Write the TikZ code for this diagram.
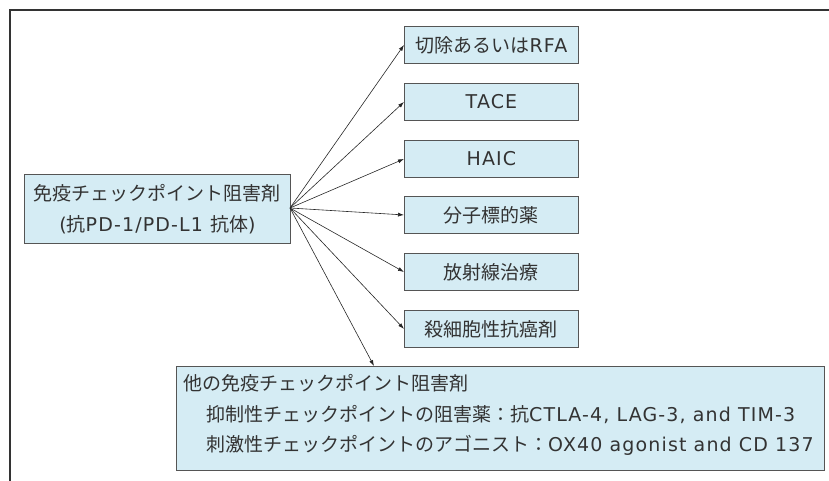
\documentclass[tikz,border=0pt]{standalone}
\usepackage{fontspec}
\setmainfont{Noto Sans CJK JP}
\newfontfamily\latf{DejaVu Sans}[LetterSpace=6]
\newcommand{\lt}[1]{{\latf #1}}
\usetikzlibrary{arrows.meta}
\definecolor{boxfill}{HTML}{D5ECF4}
\definecolor{boxline}{HTML}{555555}
\definecolor{txt}{HTML}{333333}
\tikzset{
  tbox/.style={draw=boxline, fill=boxfill, line width=0.9pt, text=txt, font=\fontsize{19pt}{31pt}\selectfont, inner sep=0pt, minimum width=174pt, minimum height=37pt, anchor=north west},
  tline/.style={text=txt, font=\fontsize{19pt}{31pt}\selectfont, inner sep=0pt, anchor=base west},
  conn/.style={draw=black!85, line width=0.6pt, -{Latex[length=6pt,width=4pt]}}
}
\begin{document}
\begin{tikzpicture}[x=1pt,y=-1pt]
\useasboundingbox (0,0) rectangle (829,480);
\draw[line width=2pt, draw=black!80] (10,481) -- (10,10) -- (830,10);
\node[tbox] (rfa) at (404,26) {切除あるいは\lt{RFA}};
\node[tbox] (tace) at (404,83) {\lt{TACE}};
\node[tbox] (haic) at (404,140) {\lt{HAIC}};
\node[tbox] (mtd) at (404,196) {分子標的薬};
\node[tbox] (rad) at (404,253) {放射線治療};
\node[tbox] (chemo) at (404,310) {殺細胞性抗癌剤};
\node[tbox, minimum width=266pt, minimum height=69pt, align=center] (ici) at (24,174) {免疫チェックポイント阻害剤\\\lt{(}抗\lt{PD-1/PD-L1 }抗体\lt{)}};
\node[tbox, minimum width=648pt, minimum height=104pt] (other) at (176,366) {};
\node[tline] (o1) at (183,390) {他の免疫チェックポイント阻害剤};
\node[tline] (o2) at (206,421) {抑制性チェックポイントの阻害薬：抗\lt{CTLA-4, LAG-3, and TIM-3}};
\node[tline] (o3) at (206,451) {刺激性チェックポイントのアゴニスト：\lt{OX40 agonist and CD 137}};
\coordinate (src) at (290,208);
\coordinate (otop) at (374,366);
\foreach \t in {rfa,tace,haic,mtd,rad,chemo}{
  \draw[conn] (src) -- (\t.west);
}
\draw[conn] (src) -- (otop);
\end{tikzpicture}
\end{document}
